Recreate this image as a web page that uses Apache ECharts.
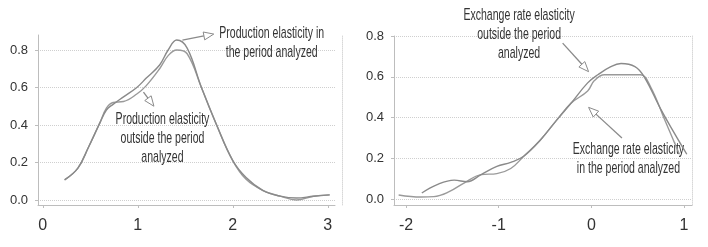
<!DOCTYPE html>
<html>
<head>
<meta charset="utf-8">
<script src="https://cdn.jsdelivr.net/npm/echarts@6/dist/echarts.min.js"></script>
<style>
html, body { margin: 0; padding: 0; background: #fff; }
#chart { width: 708px; height: 247px; }
</style>
</head>
<body>
<div id="chart"></div>
<script>
// production elasticity (left panel)
const prodX = [0.23, 0.37, 0.48, 0.6, 0.67, 0.74, 0.85, 0.99, 1.09, 1.23, 1.32, 1.41, 1.52, 1.67, 1.83, 2.0, 2.14, 2.32, 2.5, 2.67, 2.85, 3.02];
const prodInPeriod = [0.107, 0.17, 0.28, 0.41, 0.48, 0.51, 0.55, 0.6, 0.65, 0.72, 0.8, 0.853, 0.81, 0.6, 0.4, 0.21, 0.12, 0.05, 0.02, 0.01, 0.02, 0.027];
const prodOutside = [0.107, 0.17, 0.28, 0.41, 0.49, 0.52, 0.525, 0.565, 0.61, 0.7, 0.77, 0.8, 0.78, 0.6, 0.4, 0.21, 0.11, 0.05, 0.02, 0.0, 0.02, 0.027];

// exchange rate elasticity (right panel)
const fxInX = [-2.08, -1.84, -1.7, -1.54, -1.37, -1.19, -1.02, -0.87, -0.73, -0.55, -0.37, -0.22, -0.04, 0.03, 0.14, 0.32, 0.53, 0.64, 0.79, 0.95];
const fxInPeriod = [0.02, 0.01, 0.012, 0.035, 0.08, 0.12, 0.125, 0.15, 0.21, 0.29, 0.39, 0.47, 0.53, 0.58, 0.61, 0.61, 0.61, 0.55, 0.39, 0.22];
const fxOutX = [-1.83, -1.67, -1.48, -1.34, -1.19, -1.02, -0.87, -0.73, -0.55, -0.37, -0.22, -0.04, 0.07, 0.21, 0.32, 0.47, 0.57, 0.75, 0.9, 1.03];
const fxOutside = [0.03, 0.07, 0.093, 0.085, 0.12, 0.16, 0.18, 0.21, 0.29, 0.39, 0.47, 0.57, 0.61, 0.65, 0.665, 0.65, 0.6, 0.44, 0.32, 0.22];

// tick labels
const prodTicksX = [0, 1, 2, 3];
const fxTicksX = [-2, -1, 0, 1];
const ticksY = [0, 0.2, 0.4, 0.6, 0.8];

// annotation texts
const noteTexts = [
	"Production elasticity in\nthe period analyzed",
	"Production elasticity\noutside the period\nanalyzed",
	"Exchange rate elasticity\noutside the period\nanalyzed",
	"Exchange rate elasticity\nin the period analyzed",
];

const pairs = (xs, ys) => xs.map((x, i) => [x, ys[i]]);

const FONT = '"Liberation Sans Narrow", "Liberation Sans", sans-serif';
const AXIS = "#bdbdbd";
const GRIDLINE = "#cfcfcf";

function xAxisOf(grid, min, max, ticks) {
	return {
		type: "value",
		gridIndex: grid,
		min: min,
		max: max,
		axisLine: {onZero: false, lineStyle: {color: AXIS}},
		axisTick: {show: true, length: 3, customValues: ticks, lineStyle: {color: AXIS}},
		axisLabel: {customValues: ticks, margin: 13, fontSize: 16, fontFamily: FONT, color: "#333"},
		splitLine: {show: false},
	};
}

function yAxisOf(grid, min, max) {
	return {
		type: "value",
		gridIndex: grid,
		min: min,
		max: max,
		axisLine: {show: true, onZero: false, lineStyle: {color: AXIS}},
		axisTick: {show: true, length: 3, customValues: ticksY, lineStyle: {color: AXIS}},
		axisLabel: {
			customValues: ticksY,
			margin: 10,
			fontSize: 13,
			fontFamily: FONT,
			color: "#333",
			formatter: (v) => v.toFixed(1),
		},
		splitLine: {show: true, lineStyle: {color: GRIDLINE, type: "dotted"}},
	};
}

function borderAxis(grid, min, max, offset) {
	return {
		type: "value",
		gridIndex: grid,
		position: "right",
		offset: offset,
		min: min,
		max: max,
		axisLine: {show: true, onZero: false, lineStyle: {color: "#d8d8d8", type: "dotted"}},
		axisTick: {show: false},
		axisLabel: {show: false},
		splitLine: {show: false},
	};
}

function lineSeries(x, y, data, color) {
	return {
		type: "line",
		xAxisIndex: x,
		yAxisIndex: y,
		data: data,
		smooth: 0.4,
		showSymbol: false,
		symbol: "none",
		lineStyle: {color: color, width: 1.4},
		animation: false,
	};
}

const chart = echarts.init(document.getElementById("chart"));

chart.setOption({
	animation: false,
	grid: [
		{left: 38, right: 373, top: 35, bottom: 42},
		{left: 394, right: 16, top: 36, bottom: 42},
	],
	xAxis: [
		xAxisOf(0, -0.05, 3.076, prodTicksX),
		xAxisOf(1, -2.13, 1.086, fxTicksX),
	],
	yAxis: [
		yAxisOf(0, -0.027, 0.88),
		yAxisOf(1, -0.029, 0.8),
		borderAxis(0, -0.027, 0.88, 7),
		borderAxis(1, -0.029, 0.8, 0),
	],
	series: [
		lineSeries(0, 0, pairs(prodX, prodOutside), "#9a9a9a"),
		lineSeries(0, 0, pairs(prodX, prodInPeriod), "#8a8a8a"),
		lineSeries(1, 1, pairs(fxInX, fxInPeriod), "#9a9a9a"),
		lineSeries(1, 1, pairs(fxOutX, fxOutside), "#8a8a8a"),
	],
});

// annotations, anchored in data coordinates: text centre, arrow start, arrow tip
const notes = [
	{grid: 0, text: noteTexts[0], at: [2.41, 0.84], from: [1.47, 0.853], to: [1.8, 0.885]},
	{grid: 0, text: noteTexts[1], at: [1.26, 0.33], from: [1.06, 0.575], to: [1.17, 0.5]},
	{grid: 1, text: noteTexts[2], at: [-0.78, 0.81], from: [-0.31, 0.765], to: [-0.03, 0.625]},
	{grid: 1, text: noteTexts[3], at: [0.4, 0.2], from: [0.33, 0.3], to: [-0.03, 0.45]},
];

function arrowElements(a, b) {
	const dx = b[0] - a[0];
	const dy = b[1] - a[1];
	const len = Math.sqrt(dx * dx + dy * dy);
	const ux = dx / len, uy = dy / len;
	const px = -uy, py = ux;
	const head = 10, half = 4;
	const bx = b[0] - ux * head, by = b[1] - uy * head;
	return [
		{
			type: "line",
			shape: {x1: a[0], y1: a[1], x2: bx, y2: by},
			style: {stroke: "#8a8a8a", lineWidth: 1.3},
			silent: true,
		},
		{
			type: "polygon",
			shape: {points: [[b[0], b[1]], [bx + px * half, by + py * half], [bx - px * half, by - py * half]]},
			style: {fill: "#fff", stroke: "#8a8a8a", lineWidth: 1},
			silent: true,
		},
	];
}

const graphics = [];
notes.forEach((n) => {
	const c = chart.convertToPixel({gridIndex: n.grid}, n.at);
	const a = chart.convertToPixel({gridIndex: n.grid}, n.from);
	const b = chart.convertToPixel({gridIndex: n.grid}, n.to);
	graphics.push(...arrowElements(a, b));
	graphics.push({
		type: "text",
		x: c[0],
		y: c[1],
		scaleX: 0.62,
		silent: true,
		style: {
			text: n.text,
			font: "17px " + FONT,
			fill: "#333",
			textAlign: "center",
			textVerticalAlign: "middle",
			align: "center",
			verticalAlign: "middle",
			lineHeight: 19,
		},
	});
});
chart.setOption({graphic: graphics});
</script>
</body>
</html>
